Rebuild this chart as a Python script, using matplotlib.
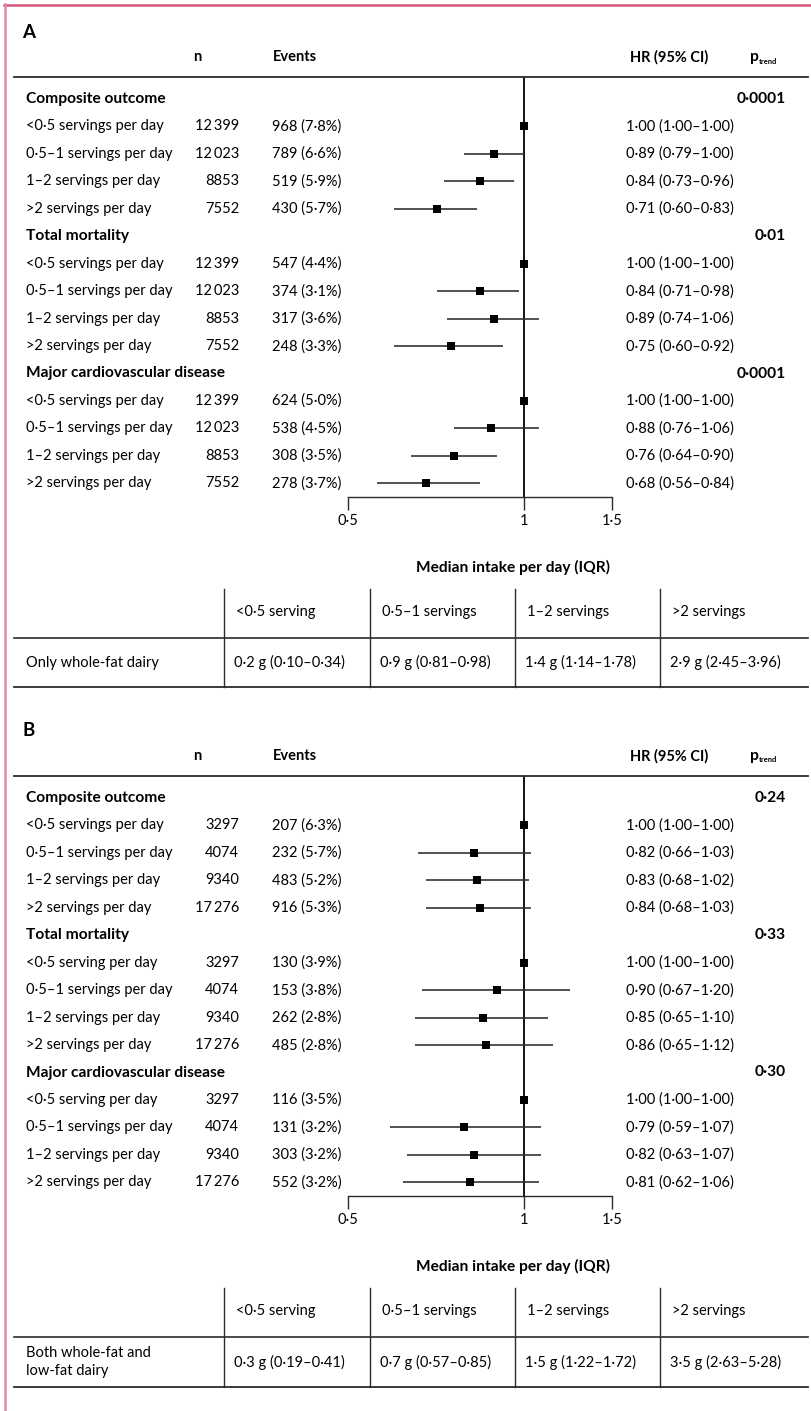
import matplotlib as mpl
mpl.use('agg')
import matplotlib.pyplot as plt
from matplotlib.lines import Line2D

plt.rcParams['font.family'] = ['Lato', 'DejaVu Sans']

# ---- data ----
outcomes = ["Composite outcome", "Total mortality", "Major cardiovascular disease"]

a_labels = [["<0·5 servings per day", "0·5–1 servings per day", "1–2 servings per day", ">2 servings per day"]] * 3
a_n = [12399, 12023, 8853, 7552]
a_events = [[968, 789, 519, 430], [547, 374, 317, 248], [624, 538, 308, 278]]
a_pct = [[7.8, 6.6, 5.9, 5.7], [4.4, 3.1, 3.6, 3.3], [5.0, 4.5, 3.5, 3.7]]
a_hr = [[1.00, 0.89, 0.84, 0.71], [1.00, 0.84, 0.89, 0.75], [1.00, 0.88, 0.76, 0.68]]
a_lo = [[1.00, 0.79, 0.73, 0.60], [1.00, 0.71, 0.74, 0.60], [1.00, 0.76, 0.64, 0.56]]
a_hi = [[1.00, 1.00, 0.96, 0.83], [1.00, 0.98, 1.06, 0.92], [1.00, 1.06, 0.90, 0.84]]
a_ptrend = ["0·0001", "0·01", "0·0001"]

b_labels = [["<0·5 servings per day", "0·5–1 servings per day", "1–2 servings per day", ">2 servings per day"],
            ["<0·5 serving per day", "0·5–1 servings per day", "1–2 servings per day", ">2 servings per day"],
            ["<0·5 serving per day", "0·5–1 servings per day", "1–2 servings per day", ">2 servings per day"]]
b_n = [3297, 4074, 9340, 17276]
b_events = [[207, 232, 483, 916], [130, 153, 262, 485], [116, 131, 303, 552]]
b_pct = [[6.3, 5.7, 5.2, 5.3], [3.9, 3.8, 2.8, 2.8], [3.5, 3.2, 3.2, 3.2]]
b_hr = [[1.00, 0.82, 0.83, 0.84], [1.00, 0.90, 0.85, 0.86], [1.00, 0.79, 0.82, 0.81]]
b_lo = [[1.00, 0.66, 0.68, 0.68], [1.00, 0.67, 0.65, 0.65], [1.00, 0.59, 0.63, 0.62]]
b_hi = [[1.00, 1.03, 1.02, 1.03], [1.00, 1.20, 1.10, 1.12], [1.00, 1.07, 1.07, 1.06]]
b_ptrend = ["0·24", "0·33", "0·30"]

intake_cols = ["<0·5 serving", "0·5–1 servings", "1–2 servings", ">2 servings"]
a_intake_label = "Only whole-fat dairy"
a_med = [0.2, 0.9, 1.4, 2.9]
a_q1 = [0.10, 0.81, 1.14, 2.45]
a_q3 = [0.34, 0.98, 1.78, 3.96]
b_intake_label = "Both whole-fat and\nlow-fat dairy"
b_med = [0.3, 0.7, 1.5, 3.5]
b_q1 = [0.19, 0.57, 1.22, 2.63]
b_q3 = [0.41, 0.85, 1.72, 5.28]

hr_ticks = [0.5, 1, 2 ** 0.5]
hr_ticklabels = ["0·5", "1", "1·5"]

# ---- layout (pixels) ----
W, H = 811, 1411
FS = 10.5
FS_B = 11.2
ROW0, ROWH = 99, 27.45
DARK = '#2b2b2b'

fig = plt.figure(figsize=(W / 100, H / 100), dpi=100)


def fx(px):
    return px / W


def fy(py):
    return 1 - py / H


def txt(x, y, s, **kw):
    kw.setdefault('fontsize', FS)
    kw.setdefault('va', 'center')
    fig.text(fx(x), fy(y), s, **kw)


def hline(x0, x1, y, lw=1.2, color=DARK):
    fig.add_artist(Line2D([fx(x0), fx(x1)], [fy(y), fy(y)], lw=lw, color=color))


def vline(x, y0, y1, lw=1.0, color=DARK):
    fig.add_artist(Line2D([fx(x), fx(x)], [fy(y0), fy(y1)], lw=lw, color=color))


def dec(v, nd):
    return f"{v:.{nd}f}".replace('.', '·')


def fmt_n(v):
    s = str(v)
    return s[:-3] + '\u2009' + s[-3:] if v >= 10000 else s


def panel(off, letter, labels, n, events, pct, hr, lo, hi, ptrend,
          row_label, med, q1, q3, table_bottom):
    txt(22, off + 32, letter, fontsize=13.5, fontweight='bold')
    txt(197, off + 57, "n", fontweight='bold', ha='center')
    txt(273, off + 57, "Events", fontweight='bold')
    txt(708, off + 57, "HR (95% CI)", fontweight='bold', ha='right')
    txt(750, off + 57, "p", fontweight='bold', fontsize=FS_B)
    txt(759, off + 61, "trend", fontsize=5.5, fontweight='bold')
    hline(14, 808, off + 77, lw=1.3)

    ax = fig.add_axes([fx(330), fy(off + 497), fx(640) - fx(330), (497 - 77) / H])
    ax.set_xscale('log')
    ax.set_xlim(0.466, 1.579)
    ax.set_ylim((497 - ROW0) / ROWH, (77 - ROW0) / ROWH)
    ax.patch.set_visible(False)
    for side in ['top', 'right', 'left']:
        ax.spines[side].set_visible(False)
    ax.spines['bottom'].set_bounds(hr_ticks[0], hr_ticks[-1])
    ax.spines['bottom'].set_linewidth(1.0)
    ax.spines['bottom'].set_color(DARK)
    ax.set_xticks(hr_ticks)
    ax.set_xticklabels(hr_ticklabels, fontsize=FS)
    ax.minorticks_off()
    ax.tick_params(axis='x', direction='out', length=9, width=1.0, color=DARK, pad=3)
    ax.set_yticks([])
    ax.axvline(1, color='black', lw=1.3, zorder=1)

    row = 0
    for k, title in enumerate(outcomes):
        y = ROW0 + ROWH * row
        txt(26, off + y, title, fontweight='bold', fontsize=FS_B)
        txt(786, off + y, ptrend[k], fontweight='bold', ha='right', fontsize=FS_B)
        row += 1
        for i in range(4):
            y = ROW0 + ROWH * row
            txt(26, off + y, labels[k][i])
            txt(239, off + y, fmt_n(n[i]), ha='right')
            txt(272, off + y, f"{events[k][i]} ({dec(pct[k][i], 1)}%)")
            txt(626, off + y,
                f"{dec(hr[k][i], 2)} ({dec(lo[k][i], 2)}–{dec(hi[k][i], 2)})")
            ax.plot([lo[k][i], hi[k][i]], [row, row], color='#333333', lw=1.2,
                    solid_capstyle='butt', zorder=2)
            ax.plot([hr[k][i]], [row], marker='s', ms=5.2, color='black',
                    mew=0, zorder=3)
            row += 1

    # median intake table
    txt(513, off + 567, "Median intake per day (IQR)", fontweight='bold',
        ha='center', fontsize=FS_B)
    cols = [224, 370, 515, 660]
    for c in cols:
        vline(c, off + 589, off + table_bottom)
    hline(14, 808, off + 638, lw=1.2)
    hline(14, 808, off + table_bottom, lw=1.3)
    data_y = off + (638 + table_bottom) / 2
    txt(26, data_y, row_label, linespacing=1.35)
    for j, c in enumerate(cols):
        txt(c + 12, off + 612, intake_cols[j])
        txt(c + 10, data_y, f"{dec(med[j], 1)} g ({dec(q1[j], 2)}–{dec(q3[j], 2)})")


panel(0, "A", a_labels, a_n, a_events, a_pct, a_hr, a_lo, a_hi, a_ptrend,
      a_intake_label, a_med, a_q1, a_q3, 687)
panel(699, "B", b_labels, b_n, b_events, b_pct, b_hr, b_lo, b_hi, b_ptrend,
      b_intake_label, b_med, b_q1, b_q3, 688)

# frame
hline(4, 811, 4.5, lw=1.8, color='#d4587a')
vline(4.5, 4, 1411, lw=1.8, color='#e08aa2')

fig.savefig("out.png", dpi=100)
